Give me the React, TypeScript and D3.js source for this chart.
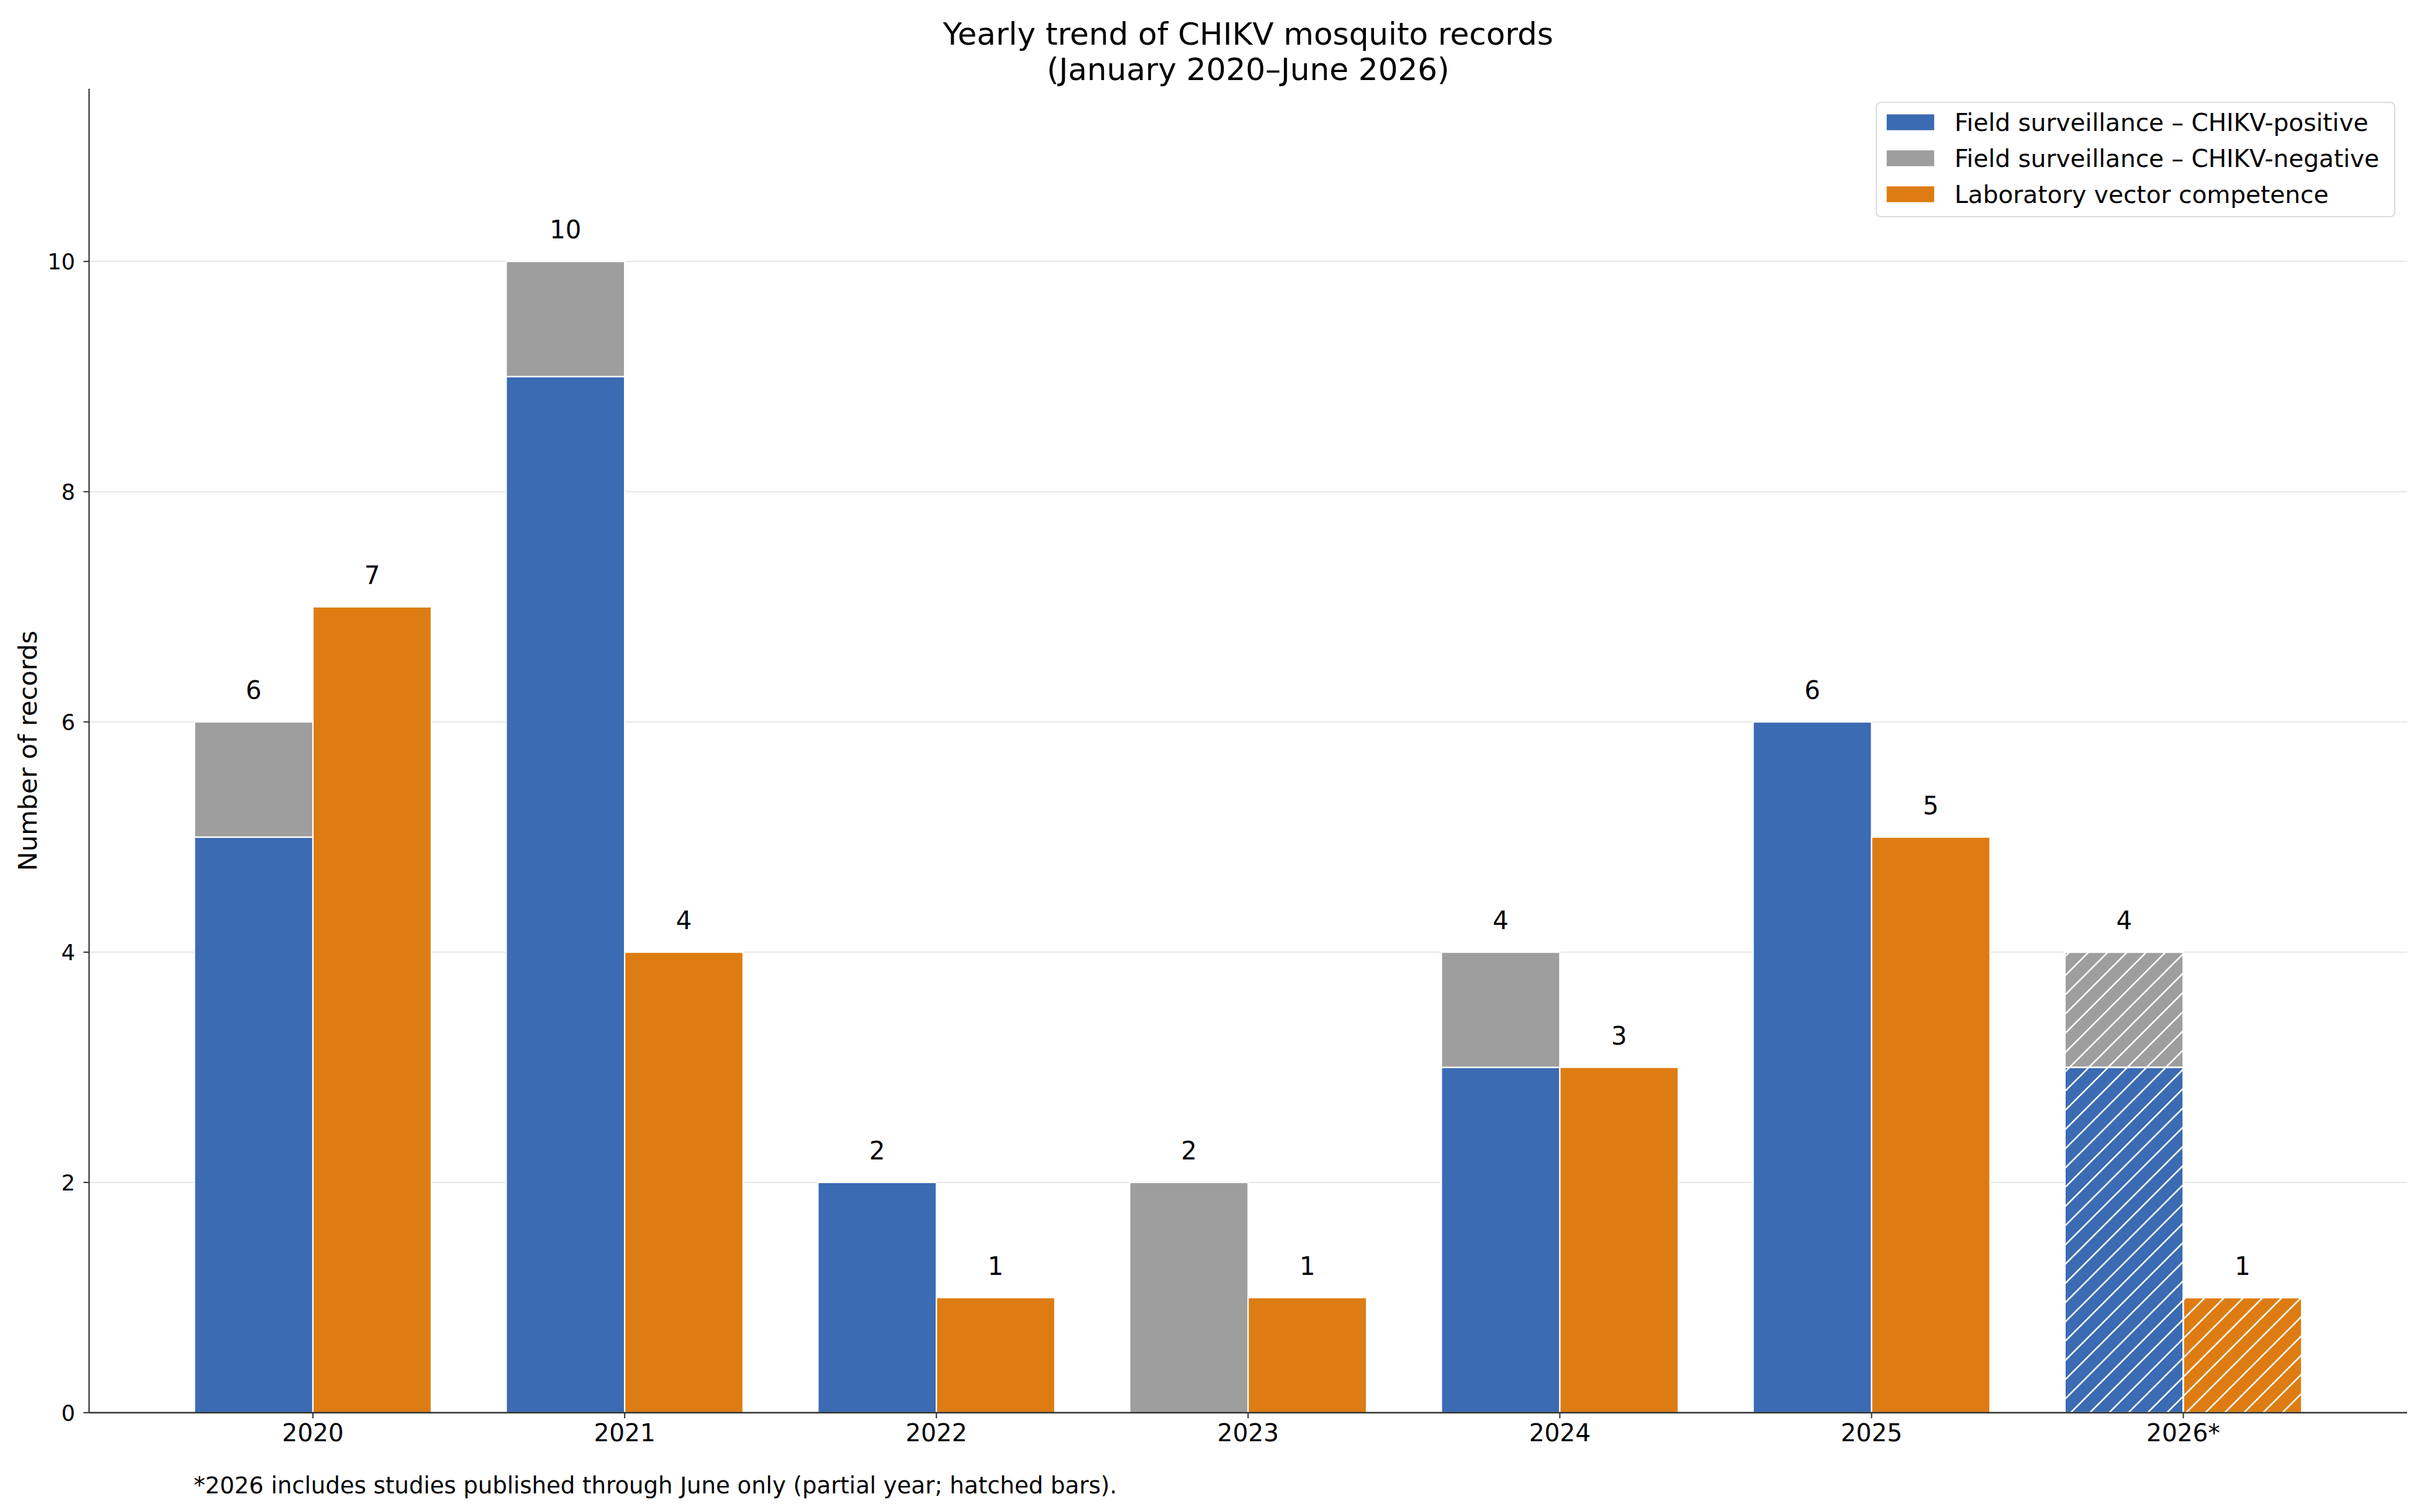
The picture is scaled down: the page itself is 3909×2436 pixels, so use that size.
import React from 'react';
import * as d3 from 'd3';

const years = ['2020', '2021', '2022', '2023', '2024', '2025', '2026*'];
const fieldPositive = [5, 9, 2, 0, 3, 6, 3];
const fieldNegative = [1, 1, 0, 2, 1, 0, 1];
const labCompetence = [7, 4, 1, 1, 3, 5, 1];
const partialYear = [false, false, false, false, false, false, true];
const yTicks = [0, 2, 4, 6, 8, 10];
const seriesNames = [
  'Field surveillance – CHIKV-positive',
  'Field surveillance – CHIKV-negative',
  'Laboratory vector competence',
];

const W = 3909;
const H = 2436;
const FONT = 'DejaVu Sans, Verdana, sans-serif';
const BLUE = '#3a6bb3';
const GREY = '#9e9e9e';
const ORANGE = '#dd7c12';
const colors = [BLUE, GREY, ORANGE];

const margin = { left: 143.5, right: 3877, top: 143, bottom: 2276 };
const barW = 0.38;

const App: React.FC = () => {
  const x = d3.scaleLinear().domain([-0.718, 6.718]).range([margin.left, margin.right]);
  const y = d3.scaleLinear().domain([0, 11.5]).range([margin.bottom, margin.top]);
  const bw = x(barW) - x(0);

  // stacked field bars: positive then negative
  const stack = d3
    .stack<number>()
    .keys(['pos', 'neg'])
    .value((i, key) => (key === 'pos' ? fieldPositive[i] : fieldNegative[i]));
  const layers = stack(years.map((_, i) => i));

  const rects: React.ReactNode[] = [];
  layers.forEach((layer, li) => {
    layer.forEach((seg, i) => {
      if (seg[1] - seg[0] <= 0) return;
      const rx = x(i - barW);
      const ry = y(seg[1]);
      const rh = y(seg[0]) - y(seg[1]);
      rects.push(
        <rect key={`f${li}-${i}`} x={rx} y={ry} width={bw} height={rh}
          fill={colors[li]} stroke="#fff" strokeWidth={2.2} />
      );
      if (partialYear[i]) {
        rects.push(
          <rect key={`fh${li}-${i}`} x={rx} y={ry} width={bw} height={rh}
            fill="url(#hatch)" stroke="#fff" strokeWidth={2.2} />
        );
      }
    });
  });
  labCompetence.forEach((v, i) => {
    const rx = x(i);
    const ry = y(v);
    const rh = y(0) - y(v);
    rects.push(
      <rect key={`l${i}`} x={rx} y={ry} width={bw} height={rh}
        fill={ORANGE} stroke="#fff" strokeWidth={2.2} />
    );
    if (partialYear[i]) {
      rects.push(
        <rect key={`lh${i}`} x={rx} y={ry} width={bw} height={rh}
          fill="url(#hatch)" stroke="#fff" strokeWidth={2.2} />
      );
    }
  });

  const labels: React.ReactNode[] = [];
  years.forEach((_, i) => {
    const total = fieldPositive[i] + fieldNegative[i];
    if (total > 0) {
      labels.push(
        <text key={`tf${i}`} x={x(i - barW / 2)} y={y(total + 0.15) - 9}
          textAnchor="middle" fontSize={40}>{total}</text>
      );
    }
    if (labCompetence[i] > 0) {
      labels.push(
        <text key={`tl${i}`} x={x(i + barW / 2)} y={y(labCompetence[i] + 0.15) - 9}
          textAnchor="middle" fontSize={40}>{labCompetence[i]}</text>
      );
    }
  });

  const legendX = 3022;
  const legendY = 165;
  const rowY = [197, 255, 313];

  return (
    <svg width={W} height={H} viewBox={`0 0 ${W} ${H}`}
      style={{ position: 'absolute', left: 0, top: 0, background: '#fff' }}
      fontFamily={FONT}>
      <defs>
        <pattern id="hatch" patternUnits="userSpaceOnUse" width={31} height={31}>
          <path d="M-4,35 L35,-4 M-8,8 L8,-8 M23,39 L39,23" stroke="#fff" strokeWidth={2.6} />
        </pattern>
      </defs>
      <rect x={0} y={0} width={W} height={H} fill="#fff" />

      {/* title */}
      <text x={(margin.left + margin.right) / 2} y={72} textAnchor="middle" fontSize={50}>
        Yearly trend of CHIKV mosquito records
      </text>
      <text x={(margin.left + margin.right) / 2} y={129} textAnchor="middle" fontSize={50}>
        (January 2020–June 2026)
      </text>

      {/* grid */}
      {yTicks.filter((t) => t > 0).map((t) => (
        <line key={`g${t}`} x1={margin.left} x2={margin.right} y1={y(t)} y2={y(t)}
          stroke="#e6e6e6" strokeWidth={2} />
      ))}

      {rects}
      {labels}

      {/* y axis */}
      <line x1={margin.left} x2={margin.left} y1={margin.top} y2={margin.bottom}
        stroke="#333" strokeWidth={2.2} />
      {yTicks.map((t) => (
        <g key={`yt${t}`}>
          <line x1={margin.left - 9} x2={margin.left} y1={y(t)} y2={y(t)} stroke="#333" strokeWidth={2} />
          <text x={121} y={y(t)} dy="0.36em" textAnchor="end" fontSize={35}>{t}</text>
        </g>
      ))}
      <text transform={`translate(59,${(margin.top + margin.bottom) / 2}) rotate(-90)`}
        textAnchor="middle" fontSize={41.5}>Number of records</text>

      {/* x axis */}
      <line x1={margin.left} x2={margin.right} y1={margin.bottom} y2={margin.bottom}
        stroke="#333" strokeWidth={2.4} />
      {years.map((yr, i) => (
        <g key={`xt${i}`}>
          <line x1={x(i)} x2={x(i)} y1={margin.bottom} y2={margin.bottom + 9} stroke="#333" strokeWidth={2} />
          <text x={x(i)} y={2322} textAnchor="middle" fontSize={39}>{yr}</text>
        </g>
      ))}

      {/* legend */}
      <rect x={legendX} y={legendY} width={835} height={184} rx={7}
        fill="#fff" fillOpacity={0.8} stroke="#dcdcdc" strokeWidth={2.2} />
      {seriesNames.map((name, i) => (
        <g key={`lg${i}`}>
          <rect x={3038} y={rowY[i] - 13.5} width={78} height={27} fill={colors[i]}
            stroke="#fff" strokeWidth={1.5} />
          <text x={3148} y={rowY[i] + 14} fontSize={39}>{name}</text>
        </g>
      ))}

      {/* footnote */}
      <text x={312} y={2406} fontSize={37}>
        *2026 includes studies published through June only (partial year; hatched bars).
      </text>
    </svg>
  );
};

export default App;
